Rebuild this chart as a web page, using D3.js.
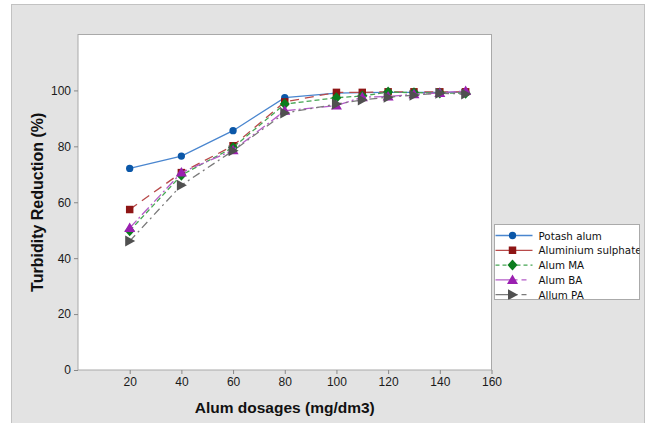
<!DOCTYPE html>
<html>
<head>
<meta charset="utf-8">
<script src="https://cdn.jsdelivr.net/npm/d3@7"></script>
<style>
  body { margin: 0; background: #fff; }
  svg text { font-family: "Liberation Sans", Arial, sans-serif; }
  svg text.leg { font-family: "DejaVu Sans", sans-serif; }
</style>
</head>
<body>
<svg id="chart" width="649" height="423"></svg>
<script>
// dosages on the x axis (mg/dm3)
var dosages = [20, 40, 60, 80, 100, 110, 120, 130, 140, 150];

// turbidity reduction (%)
var potashAlum     = [72.1, 76.5, 85.6, 97.4, 99.0, 99.2, 99.3, 99.3, 99.3, 99.4];
var aluminiumSulph = [57.4, 70.6, 80.2, 95.9, 99.3, 99.3, 99.5, 99.5, 99.5, 99.5];
var alumMA         = [49.8, 69.7, 79.6, 95.1, 97.4, 98.0, 99.4, 99.2, 99.1, 99.0];
var alumBA         = [50.8, 70.6, 78.6, 92.7, 94.6, 97.6, 97.8, 98.6, 99.1, 99.8];
var allumPA        = [46.1, 66.1, 78.4, 91.9, 95.1, 96.6, 97.6, 98.3, 99.0, 98.7];

var xTicks = [20, 40, 60, 80, 100, 120, 140, 160];
var yTicks = [0, 20, 40, 60, 80, 100];

var series = [
  {name: 'Potash alum',        values: potashAlum,     marker: 'circle',   color: '#0b57a8', line: '#4a86cf', dash: null,       legDash: null},
  {name: 'Aluminium sulphate', values: aluminiumSulph, marker: 'square',   color: '#8e1515', line: '#b84a4a', dash: '9,6',      legDash: null},
  {name: 'Alum MA',            values: alumMA,         marker: 'diamond',  color: '#0b7d1e', line: '#45a553', dash: '5,3',      legDash: '4,3'},
  {name: 'Alum BA',            values: alumBA,         marker: 'triangle', color: '#9a1fb0', line: '#b45cc8', dash: '10,3,2,3', legDash: '22,4,5,20'},
  {name: 'Allum PA',           values: allumPA,        marker: 'arrow',    color: '#505050', line: '#7a7a7a', dash: '8,4,2,4',  legDash: '22,4,5,20'}
];

var svg = d3.select('#chart');

// outer grey panel
svg.append('rect')
  .attr('x', 11.5).attr('y', 4.5)
  .attr('width', 633).attr('height', 430)
  .attr('fill', '#e3e3e3').attr('stroke', '#c2c2c2');

var plot = {left: 78, right: 491.5, top: 34.5, bottom: 370};

var x = d3.scaleLinear().domain([0, 160]).range([plot.left, plot.right]);
var y = d3.scaleLinear().domain([0, 120]).range([plot.bottom, plot.top]);

// plot area
svg.append('rect')
  .attr('x', plot.left).attr('y', plot.top)
  .attr('width', plot.right - plot.left).attr('height', plot.bottom - plot.top)
  .attr('fill', '#fff').attr('stroke', '#a9a9a9');

var xAxis = svg.append('g')
  .attr('transform', 'translate(0,' + plot.bottom + ')')
  .call(d3.axisBottom(x).tickValues(xTicks).tickSize(4).tickSizeOuter(0));
var yAxis = svg.append('g')
  .attr('transform', 'translate(' + plot.left + ',0)')
  .call(d3.axisLeft(y).tickValues(yTicks).tickSize(4).tickSizeOuter(0));

[xAxis, yAxis].forEach(function(a) {
  a.select('.domain').remove();
  a.selectAll('line').attr('stroke', '#888');
  a.selectAll('text').attr('font-size', 12).attr('fill', '#1a1a1a');
});

svg.append('text')
  .attr('x', (plot.left + plot.right) / 2).attr('y', 413)
  .attr('text-anchor', 'middle')
  .attr('font-size', 15.5).attr('font-weight', 'bold').attr('fill', '#111')
  .text('Alum dosages (mg/dm3)');

svg.append('text')
  .attr('transform', 'translate(43,' + (plot.top + plot.bottom) / 2 + ') rotate(-90)')
  .attr('text-anchor', 'middle')
  .attr('font-size', 16).attr('font-weight', 'bold').attr('fill', '#111')
  .text('Turbidity Reduction (%)');

function markerPath(type) {
  switch (type) {
    case 'circle':   return d3.symbol().type(d3.symbolCircle).size(42)();
    case 'square':   return d3.symbol().type(d3.symbolSquare).size(56)();
    case 'diamond':  return 'M0,-5.5L5,0L0,5.5L-5,0Z';
    case 'triangle': return 'M0,-5.5L5.5,4L-5.5,4Z';
    case 'arrow':    return 'M-4.5,-5.5L5.5,0L-4.5,5.5Z';
  }
}

var line = d3.line()
  .x(function(d) { return x(d[0]); })
  .y(function(d) { return y(d[1]); });

var groups = svg.selectAll('.series')
  .data(series)
  .enter()
  .append('g')
  .attr('class', 'series');

groups.append('path')
  .attr('d', function(s) { return line(d3.zip(dosages, s.values)); })
  .attr('fill', 'none')
  .attr('stroke', function(s) { return s.line; })
  .attr('stroke-width', 1.3)
  .attr('stroke-dasharray', function(s) { return s.dash; });

groups.each(function(s) {
  d3.select(this).selectAll('.pt')
    .data(d3.zip(dosages, s.values))
    .enter()
    .append('path')
    .attr('class', 'pt')
    .attr('d', markerPath(s.marker))
    .attr('transform', function(d) { return 'translate(' + x(d[0]) + ',' + y(d[1]) + ')'; })
    .attr('fill', s.color);
});

// legend, clipped at the bottom like the original
var lg = {x: 494.5, y: 224.5, w: 145, h: 75};
svg.append('clipPath').attr('id', 'legClip')
  .append('rect').attr('x', lg.x).attr('y', lg.y).attr('width', lg.w).attr('height', lg.h);
svg.append('rect')
  .attr('x', lg.x).attr('y', lg.y).attr('width', lg.w).attr('height', lg.h)
  .attr('fill', '#fff').attr('stroke', '#aaa');

var legend = svg.append('g').attr('clip-path', 'url(#legClip)');
var items = legend.selectAll('.item')
  .data(series)
  .enter()
  .append('g')
  .attr('class', 'item')
  .attr('transform', function(d, i) { return 'translate(' + (lg.x + 1) + ',' + (lg.y + 11 + i * 14.8) + ')'; });

items.append('line')
  .attr('x1', 0).attr('x2', 37).attr('y1', 0).attr('y2', 0)
  .attr('stroke', function(s) { return s.line; })
  .attr('stroke-width', 1.3)
  .attr('stroke-dasharray', function(s) { return s.legDash; });
items.append('path')
  .attr('d', function(s) { return markerPath(s.marker); })
  .attr('transform', 'translate(17,0)')
  .attr('fill', function(s) { return s.color; });
items.append('text')
  .attr('class', 'leg')
  .attr('x', 43).attr('y', 4)
  .attr('font-size', 10.3).attr('fill', '#111')
  .text(function(s) { return s.name; });
</script>
</body>
</html>
